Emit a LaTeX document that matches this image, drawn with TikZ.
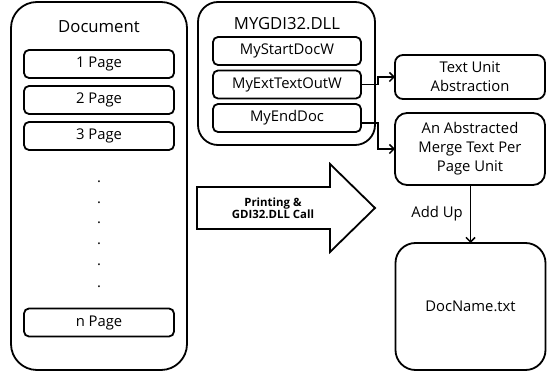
\documentclass[tikz,border=0pt]{standalone}
\usepackage{fontspec}
\setmainfont{Open Sans}
\usetikzlibrary{arrows.meta,calc}
\begin{document}
\begin{tikzpicture}[x=1pt,y=-1pt,
  every node/.style={inner sep=0pt, outer sep=0pt, font=\fontsize{14.8}{19}\selectfont},
  bigbox/.style={draw, line width=1.8pt, rounded corners=#1},
  bigbox/.default=24pt,
  itembox/.style={draw, line width=1.8pt, rounded corners=5pt, minimum height=28pt, align=center},
  titletext/.style={font=\fontsize{16.7}{20}\selectfont},
  dotnode/.style={anchor=base, font=\fontsize{14.8}{19}\selectfont},
  conn/.style={line width=1.8pt, -{Straight Barb[length=4.5pt,width=9pt,line width=1.5pt]}},
  bigarrow/.style={draw, line width=1.8pt, line join=miter}
]
\useasboundingbox (0,0) rectangle (547,371);
% Document column
\node[bigbox=26pt, minimum width=176pt, minimum height=368pt] (doc) at (99,186) {};
\node[titletext] (doct) at (99,27) {Document};
\node[itembox, minimum width=150pt] (p1) at (99,64) {1 Page};
\node[itembox, minimum width=150pt] (p2) at (99,100) {2 Page};
\node[itembox, minimum width=150pt] (p3) at (99,136) {3 Page};
\node[itembox, minimum width=150pt] (pn) at (99,322.5) {n Page};
\foreach \yy [count=\i] in {181,202,222,243,264,286}
  \node[dotnode] (dot\i) at (99,\yy+2) {.};
% MYGDI32.DLL
\node[bigbox=20pt, minimum width=177pt, minimum height=143pt] (dll) at (286.5,73.5) {};
\node[titletext] (dllt) at (287,24) {MYGDI32.DLL};
\node[itembox, minimum width=148pt] (start) at (287,51) {MyStartDocW};
\node[itembox, minimum width=148pt] (ext) at (287,84.5) {MyExtTextOutW};
\node[itembox, minimum width=148pt] (end) at (287,118) {MyEndDoc};
% right column
\node[bigbox=8pt, minimum width=150pt, minimum height=44pt, align=center] (tua) at (470,77) {Text Unit\\Abstraction};
\node[bigbox=12pt, minimum width=150pt, minimum height=72pt, align=center] (amt) at (470,149) {An Abstracted\\Merge Text Per\\Page Unit};
\node[bigbox=20pt, minimum width=150pt, minimum height=127pt] (dn) at (470.5,306.5) {DocName.txt};
% block arrow
\draw[bigarrow] (197,187) -- (330,187) -- (330,164) -- (375,208) -- (330,252) -- (330,229) -- (197,229) -- cycle;
\node[align=center, font=\fontsize{11.4}{12.5}\selectfont\bfseries] (call) at (273,208) {Printing \&\\GDI32.DLL Call};
% connectors
\coordinate (c1) at (378,84.5);
\coordinate (c2) at (378,77);
\draw[conn] (ext.east) -- (c1) -- (c2) -- (tua.west);
\coordinate (e0) at (361,123);
\coordinate (e1) at (378,123);
\coordinate (e2) at (378,149);
\draw[conn] (e0) -- (e1) -- (e2) -- (amt.west);
\draw[conn] (amt.south -| dn.north) -- (dn.north);
\node (addup) at (437,214) {Add Up};
\end{tikzpicture}
\end{document}
